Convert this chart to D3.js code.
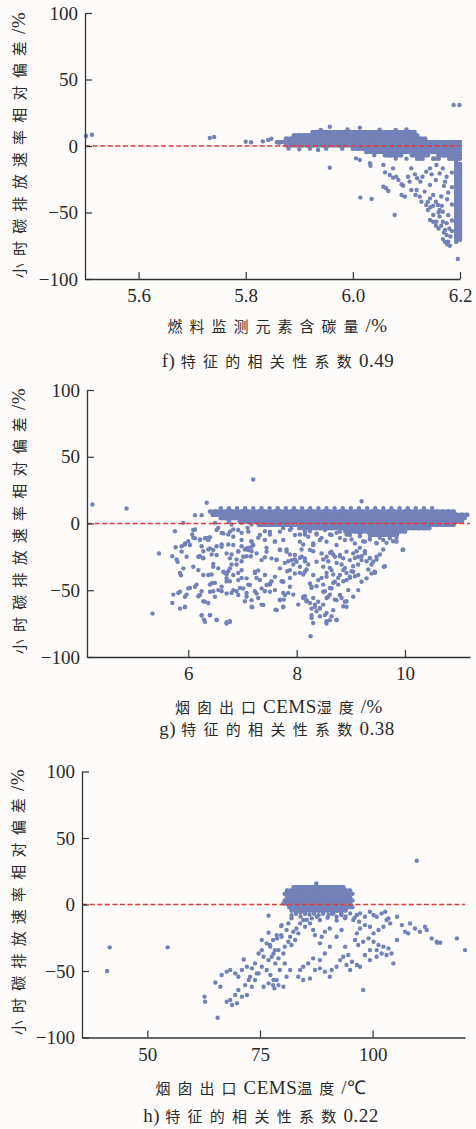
<!DOCTYPE html>
<html><head><meta charset="utf-8">
<script src="https://cdn.jsdelivr.net/npm/d3@7"></script>
<style>body{margin:0;background:#fdfcfb}svg{display:block}</style>
</head><body><svg id="c" width="476" height="1129"></svg>
<script>
// ---------- shared ----------
const yTicks = [100, 50, 0, -50, -100];
const yLabel = ["小时碳排放速率相对偏差", "/%"];

// ---------- panel f ----------
const fXTicks = [5.6, 5.8, 6.0, 6.2];
const fXLabel = ["燃料监测元素含碳量", "/%"];
const fCaption = ["f) ", "特征的相关性系数", "0.49"];
// dense core, read as rows: [y, [x...]]
const fCoreRows = [
  [10.5, [5.925,5.935,5.945,5.955,5.965,5.975,5.985,5.995,6.005,6.015,6.025,6.035,6.045,6.055,6.065,6.075,6.085,6.095,6.105,6.115]],
  [8, [5.89,5.90,5.91,5.92,5.93,5.94,5.95,5.96,5.97,5.98,5.99,6.00,6.01,6.02,6.03,6.04,6.05,6.06,6.07,6.08,6.09,6.10,6.11,6.12]],
  [5.5, [5.875,5.885,5.895,5.905,5.915,5.925,5.935,5.945,5.955,5.965,5.975,5.985,5.995,6.005,6.015,6.025,6.035,6.045,6.055,6.065,6.075,6.085,6.095,6.105,6.115,6.125,6.135]],
  [3, [5.86,5.87,5.88,5.89,5.90,5.91,5.92,5.93,5.94,5.95,5.96,5.97,5.98,5.99,6.00,6.01,6.02,6.03,6.04,6.05,6.06,6.07,6.08,6.09,6.10,6.11,6.12,6.13,6.14,6.15,6.16,6.17,6.18,6.19,6.20]],
  [0.5, [5.875,5.885,5.895,5.905,5.915,5.925,5.935,5.945,5.955,5.965,5.975,5.985,5.995,6.005,6.015,6.025,6.035,6.045,6.055,6.065,6.075,6.085,6.095,6.105,6.115,6.125,6.135,6.145,6.155,6.165,6.175,6.185,6.195,6.20]],
  [-2, [5.88,5.92,5.95,5.98,6.00,6.01,6.02,6.03,6.04,6.05,6.06,6.07,6.08,6.09,6.10,6.11,6.12,6.13,6.14,6.15,6.16,6.17,6.18,6.19,6.20]],
  [-4.5, [6.025,6.035,6.045,6.055,6.065,6.075,6.085,6.095,6.105,6.115,6.125,6.135,6.145,6.155,6.165,6.175,6.185,6.195,6.20]],
  [-7, [6.04,6.06,6.07,6.08,6.09,6.11,6.12,6.13,6.14,6.16,6.17,6.18,6.19,6.20]],
  [-9.5, [6.08,6.10,6.12,6.13,6.15,6.16,6.18,6.19,6.20]]
];
// right-edge vertical strip, read as columns: [x, [y...]]
const fStripCols = [
  [6.193, [-12,-15,-18,-21,-24,-27,-30,-33,-36,-39,-42,-45,-48,-51,-54,-57,-60,-63,-66,-69,-72]],
  [6.200, [-13.5,-16.5,-19.5,-22.5,-25.5,-28.5,-31.5,-34.5,-37.5,-40.5,-43.5,-46.5,-49.5,-52.5,-55.5,-58.5,-61.5,-64.5,-67.5,-70.5]],
  [6.185, [-20,-31,-44,-56,-64]]
];
const fScatter = [
  [5.502,7.5],[5.513,8.5],[5.733,6],[5.741,6.8],[5.80,3.2],[5.81,2.8],[5.832,3.5],[5.842,4.5],[5.848,5.5],[5.858,2.8],[5.863,2.5],
  [5.90,-2.5],[5.935,-3],[5.957,-16.3],
  [5.957,14.5],[6.013,13.8],[5.99,12.5],[6.05,12.3],[6.08,12],[6.10,12.4],[5.94,12],
  [6.006,-9.3],[6.013,-10.5],[6.032,-13],[6.033,-14.8],[6.057,-14.3],[6.06,-19.8],[6.075,-16.8],[6.069,-21.8],[6.075,-23.8],
  [6.081,-23.1],[6.085,-25.6],[6.091,-28.8],[6.094,-29.8],[6.057,-30.6],[6.062,-31.8],[6.066,-33.8],[6.103,-23.1],[6.109,-16.8],
  [6.106,-26.8],[6.116,-21.3],[6.12,-24.3],[6.126,-26.8],[6.13,-23.1],[6.137,-19.3],[6.144,-16.8],[6.147,-21.3],[6.155,-25.6],
  [6.156,-14.3],[6.162,-20.6],[6.168,-16.8],[6.172,-26.8],[6.175,-23.1],[6.144,-29.3],[6.134,-34.3],[6.119,-33.1],[6.109,-33.1],
  [6.125,-38.1],[6.117,-36.8],[6.128,-41.9],[6.137,-44.4],[6.144,-39.4],[6.15,-36.8],[6.155,-41.9],[6.159,-44.4],[6.162,-48.1],
  [6.168,-49.4],[6.14,-48.1],[6.15,-51.9],[6.156,-56.9],[6.162,-53.1],[6.168,-56.9],[6.172,-63.2],[6.175,-66.9],[6.178,-71.9],
  [6.144,-55.6],[6.091,-36.8],[6.097,-38.1],[6.014,-38.8],[6.035,-39.9],[6.078,-51.9],
  [6.15,-45],[6.16,-50],[6.165,-60],[6.17,-65],[6.16,-62],[6.175,-58],[6.178,-52],[6.166,-45],[6.176,-40],[6.178,-35],
  [6.17,-30],[6.165,-38],[6.18,-62],[6.182,-68],[6.176,-74],[6.168,-70],[6.155,-60],[6.15,-57],[6.145,-46],[6.14,-42],
  [6.172,-72],[6.181,-75],[6.196,-85],[6.188,30.8],[6.199,30.8]
];

// ---------- panel g ----------
const gXTicks = [6, 8, 10];
const gXLabel = ["烟囱出口", "CEMS", "湿度", "/%"];
const gCaption = ["g) ", "特征的相关性系数", "0.38"];
const gCoreRows = [
  [11.5, [6.6,6.75,6.9,7.05,7.2,7.35,7.5,7.65,7.8,7.95,8.1,8.25,8.4,8.55,8.7,8.85,9.0,9.15,9.3,9.45,9.6,9.75,9.9,10.05,10.2,10.35,10.5]],
  [9, [6.4,6.5,6.6,6.7,6.8,6.9,7.0,7.1,7.2,7.3,7.4,7.5,7.6,7.7,7.8,7.9,8.0,8.1,8.2,8.3,8.4,8.5,8.6,8.7,8.8,8.9,9.0,9.1,9.2,9.3,9.4,9.5,9.6,9.7,9.8,9.9,10.0,10.1,10.2,10.3,10.4,10.5,10.6,10.7,10.8,10.9]],
  [6.5, [6.45,6.55,6.65,6.75,6.85,6.95,7.05,7.15,7.25,7.35,7.45,7.55,7.65,7.75,7.85,7.95,8.05,8.15,8.25,8.35,8.45,8.55,8.65,8.75,8.85,8.95,9.05,9.15,9.25,9.35,9.45,9.55,9.65,9.75,9.85,9.95,10.05,10.15,10.25,10.35,10.45,10.55,10.65,10.75,10.85,10.95,11.05,11.15]],
  [4, [6.6,6.7,6.8,6.9,7.0,7.1,7.2,7.3,7.4,7.5,7.6,7.7,7.8,7.9,8.0,8.1,8.2,8.3,8.4,8.5,8.6,8.7,8.8,8.9,9.0,9.1,9.2,9.3,9.4,9.5,9.6,9.7,9.8,9.9,10.0,10.1,10.2,10.3,10.4,10.5,10.6,10.7,10.8,10.9,11.0,11.1]],
  [1.5, [6.75,6.95,7.05,7.15,7.25,7.35,7.45,7.55,7.65,7.75,7.85,7.95,8.05,8.15,8.25,8.35,8.45,8.55,8.65,8.75,8.85,8.95,9.05,9.15,9.25,9.35,9.45,9.55,9.65,9.75,9.85,9.95,10.05,10.15,10.25,10.35,10.45,10.55,10.65,10.75,10.85,10.95,11.05]],
  [-1, [7.3,7.4,7.5,7.6,7.7,7.8,7.9,8.0,8.1,8.2,8.3,8.4,8.5,8.6,8.7,8.8,8.9,9.0,9.1,9.2,9.3,9.4,9.5,9.6,9.7,9.8,9.9,10.0,10.1,10.2,10.3,10.4,10.5,10.6,10.7,10.8,10.9]],
  [-3.5, [7.75,7.9,8.05,8.15,8.25,8.35,8.45,8.55,8.65,8.75,8.85,8.95,9.05,9.15,9.25,9.35,9.45,9.55,9.65,9.75,9.85,9.95,10.05,10.15,10.25,10.35,10.45]],
  [-6, [8.9,9.0,9.1,9.2,9.3,9.4,9.5,9.6,9.7,9.8,9.9,10.0]],
  [-8.5, [9.35,9.45,9.55,9.65,9.75,9.85]]
];
const gScatter = [
  [4.23,14.25],[4.86,11.25],[6.34,15.5],[5.34,-67.5],[5.46,-22.5],[7.198,33],[9.2,16.7],
  [5.907,0.5],[6.123,6.25],[6.246,6.25],
  [5.754,-5.75],[6.123,-4.5],[6.073,-8.25],[5.938,-15.75],[5.877,-17],[5.766,-17.75],[5.704,-24.5],[5.784,-27],[5.803,-28.75],
  [5.846,-37],[5.864,-38.75],[5.999,-13.25],[6.092,-10.75],[6.215,-12],[6.246,-17],[6.338,-10.75],[6.399,-10.25],[6.276,-20.75],
  [6.369,-19.5],[6.43,-23.25],[6.215,-24.5],[6.276,-25.75],[6.461,-30.25],[6.522,-17],[6.615,-15.75],[6.615,-7],[6.738,-15.75],
  [6.799,-23.25],[6.891,-27],[6.922,-20.75],[6.984,-17],[7.045,-19.5],[7.107,-18.25],[7.168,-20.75],[7.156,-24.5],[7.076,-24.5],
  [6.984,-28.25],[6.891,-30.75],[6.799,-30.75],[6.676,-37],[6.707,-38.25],[6.768,-43.25],[6.922,-37],[6.984,-40.75],[7.107,-45.75],
  [7.23,-37],[7.291,-35.25],[7.26,-40.75],[7.445,-18.25],[7.414,-25.25],[7.599,-13.25],[7.629,-27],[7.537,-43.25],[7.506,-45.75],
  [7.414,-50.75],[7.291,-55.75],[7.23,-50.75],[7.18,-62.75],[7.076,-52],[6.953,-48.25],[6.891,-50.75],[6.799,-52],[6.615,-50.75],
  [6.492,-44.5],[6.399,-45.75],[6.461,-50.75],[6.246,-50.75],[6.153,-45.75],[6.03,-48.25],[5.969,-53.25],[5.815,-52],[5.723,-53.25],
  [5.704,-59.5],[5.846,-63.75],[5.938,-62.75],[6.184,-54.5],[6.276,-58.25],[6.369,-59.5],[6.246,-69],[6.289,-72],[6.399,-68.75],
  [6.522,-72],[6.707,-74],[6.768,-73.25],[7.045,-58.25],[7.353,-60.75],[7.611,-64.5],[7.691,-57],[7.722,-43.25],[7.752,-52],
  [7.168,-13.25],[7.291,-10.75],[7.414,-5.75],[7.506,-8.25],[6.738,-8.25],[6.83,-4.5],[6.984,-7],[7.094,-3.25],[6.984,0.5],
  [6.799,-0.75],[6.553,-3.25],[6.492,0.5],[7.168,-0.75],[6.738,-35.75],[6.707,-43.25],[6.43,-38.25],[6.448,-44.5],
  [7.691,-19.5],[7.814,-19.5],[7.875,-23.25],[7.783,-29.5],[7.937,-30.75],[7.826,-35.75],[7.876,-40.75],[7.74,-43.25],[7.845,-52],
  [8.06,-37],[8.122,-38.25],[8.183,-34.5],[8.306,-20.75],[8.306,-15.75],[8.122,-15.75],[8.091,-19.5],[8.06,-8.25],[8.152,-8.25],
  [8.245,-5.75],[8.368,-8.25],[8.46,-10.75],[8.614,-8.25],[8.737,-7],[8.798,-10.75],[8.921,-8.25],[9.013,-12],[9.167,-9.5],
  [9.229,-13.25],[9.352,-12],[9.475,-14.5],[9.536,-10.75],[9.659,-14.5],[9.782,-13.25],[9.844,-10.75],[9.967,-19.5],[9.598,-19.5],
  [9.536,-23.25],[9.475,-27],[9.628,-32],[9.444,-37],
  [7.845,-28.25],[7.968,-27],[8.06,-25.75],[8.152,-28.25],[8.214,-30.75],[7.765,-57],[7.752,-62.75],
  [9.321,-34.5],[9.382,-30.75],[9.29,-28.25],[9.352,-25.75],[9.198,-24.5],[9.259,-20.75],[9.167,-18.25],[9.106,-20.75],[9.075,-25.75],
  [9.136,-30.75],[9.044,-32],[9.013,-35.75],[9.075,-39.5],[8.983,-40.75],[8.921,-37],[8.89,-33.25],[8.829,-30.75],[8.737,-29.5],
  [8.798,-24.5],[8.675,-23.25],[8.614,-22],[8.583,-28.25],[8.491,-27],[8.614,-33.25],[8.552,-37],[8.675,-38.25],[8.767,-40.75],
  [8.86,-43.25],[8.767,-45.75],[8.675,-44.5],[8.614,-48.25],[8.521,-50.75],[8.614,-53.25],[8.706,-57],[8.829,-55.75],[8.921,-58.25],
  [8.86,-62],[8.552,-55.75],[8.491,-60.75],[8.429,-63.25],[8.552,-67],[8.644,-69.5],[8.552,-73.25],[8.737,-72],[8.491,-45.75],
  [8.46,-40.75],[8.368,-47],[8.306,-55.75],[8.275,-48.25],[8.152,-54.5],[8.183,-58.25],[8.245,-59.5],[8.275,-63.75],[8.337,-60.75],
  [8.368,-65.75],[8.429,-69.5],[8.275,-70.75],[8.306,-74.5],[8.257,-84.5],[7.937,-53.25],[8.029,-60.75],[8.122,-55.75],
  // second reading of the middle region
  [6.092,-4.9],[6.123,-11.1],[5.938,-14.9],[6.031,-16.1],[6.215,-12.4],[6.307,-11.1],[6.369,-12.4],[6.523,-4.9],[6.646,-7.4],
  [6.769,-6.1],[6.83,-9.9],[6.922,-4.9],[6.984,-12.4],[7.107,-6.1],[7.168,-13.6],[7.168,-17.4],[7.107,-19.9],[7.199,-16.1],
  [7.322,-8.6],[7.414,-12.4],[7.507,-6.1],[7.599,-13.6],[7.691,-6.1],[7.753,-12.4],[7.876,-4.9],[7.968,-8.6],[8.06,-13.6],
  [8.152,-6.1],[8.214,-9.9],[8.306,-14.9],[8.368,-7.4],[8.429,-12.4],[8.521,-4.9],[8.552,-13.6],[8.644,-8.6],[8.737,-16.1],
  [8.798,-6.1],[8.89,-12.4],[8.983,-8.6],[9.075,-14.9],[9.167,-7.4],[9.259,-13.6],[9.352,-9.9],[9.475,-14.9],[9.598,-12.4],
  [9.72,-11.1],[9.844,-13.6],[9.954,-19.9],
  [5.877,-21.1],[5.969,-24.9],[6.184,-24.9],[6.277,-26.1],[6.4,-18.6],[6.461,-19.9],[6.523,-23.6],[6.615,-17.4],[6.707,-22.4],
  [6.769,-26.1],[6.83,-16.1],[6.922,-21.1],[7.015,-24.9],[7.076,-18.6],[7.261,-22.4],[7.353,-27.4],[7.445,-21.1],[7.537,-26.1],
  [7.63,-27.4],[7.691,-19.9],[7.814,-21.1],[7.906,-27.4],[7.968,-23.6],[7.999,-28.6],[8.091,-24.9],[8.152,-26.1],[8.245,-19.9],
  [8.306,-16.1],[8.368,-28.6],[8.46,-22.4],[8.552,-24.9],[8.644,-21.1],[8.706,-24.9],[8.798,-23.6],[8.86,-26.1],[8.921,-21.1],
  [8.983,-27.4],[9.044,-22.4],[9.136,-24.9],[9.198,-27.4],[9.259,-22.4],[9.352,-26.1],[9.413,-28.6],[9.475,-24.9],[9.61,-32.4],
  [5.908,-33.6],[6.092,-32.4],[6.184,-34.9],[6.277,-38.6],[6.369,-38.6],[6.43,-44.9],[6.461,-32.4],[6.553,-33.6],[6.646,-36.1],
  [6.707,-41.1],[6.769,-33.6],[6.83,-38.6],[6.922,-42.4],[6.984,-34.9],[7.076,-41.1],[7.138,-46.1],[7.23,-36.1],[7.322,-42.4],
  [7.414,-38.6],[7.507,-44.9],[7.599,-39.9],[7.691,-33.6],[7.753,-43.6],[7.876,-34.9],[7.968,-37.4],[8.06,-32.4],[8.152,-36.1],
  [8.245,-44.9],[8.306,-38.6],[8.398,-42.4],[8.491,-32.4],[8.552,-39.9],[8.644,-34.9],[8.706,-43.6],[8.798,-38.6],[8.86,-34.9],
  [8.921,-42.4],[8.983,-39.9],[9.044,-36.1],[9.136,-38.6],[9.198,-43.6],[9.29,-41.1],[9.382,-37.4],[9.444,-36.1],
  [5.846,-51.1],[5.938,-54.9],[6.0,-48.6],[6.123,-47.4],[6.215,-53.6],[6.307,-58.6],[6.4,-51.1],[6.492,-54.9],[6.553,-49.9],
  [6.615,-47.4],[6.707,-52.4],[6.83,-49.9],[6.922,-53.6],[7.015,-48.6],[7.076,-54.9],[7.168,-57.4],[7.261,-52.4],[7.353,-48.6],
  [7.445,-46.1],[7.507,-51.1],[7.599,-49.9],[7.691,-57.4],[7.783,-53.6],[7.876,-47.4],[8.122,-54.9],[8.183,-57.4],[8.275,-47.4],
  [8.337,-62.4],[8.398,-58.6],[8.491,-51.1],[8.583,-54.9],[8.644,-48.6],[8.737,-57.4],[8.798,-53.6],[8.89,-58.6],[8.952,-49.9],
  [9.044,-54.9],[9.136,-49.9],
  [5.938,-62.4],[6.246,-68.6],[6.4,-68.6],[6.307,-73.6],[6.523,-72.4],[6.707,-74.9],[6.769,-73.6],[7.168,-62.4],[7.384,-61.1],
  [7.63,-64.9],[7.753,-62.4],[8.275,-68.6],[8.429,-63.6],[8.521,-68.6],[8.614,-72.4],[8.552,-74.9],[8.675,-64.9],[8.737,-72.4],
  [8.921,-62.4]
];

// ---------- panel h ----------
const hXTicks = [50, 75, 100];
const hXLabel = ["烟囱出口", "CEMS", "温度", "/℃"];
const hCaption = ["h) ", "特征的相关性系数", "0.22"];
const hCoreRows = [
  [13, [82.5,83.5,84.5,85.5,86.5,87.5,88.5,89.5,90.5,91.5,92.5,93.5]],
  [10.5, [81,82,83,84,85,86,87,88,89,90,91,92,93,94,95]],
  [8, [80.5,81.5,82.5,83.5,84.5,85.5,86.5,87.5,88.5,89.5,90.5,91.5,92.5,93.5,94.5,95.5]],
  [5.5, [81,82,83,84,85,86,87,88,89,90,91,92,93,94,95]],
  [3, [80.5,81.5,82.5,83.5,84.5,85.5,86.5,87.5,88.5,89.5,90.5,91.5,92.5,93.5,94.5,95.5]],
  [0.5, [81,82,83,84,85,86,87,88,89,90,91,92,93,94,95]],
  [-2, [81.5,82.5,83.5,84.5,85.5,86.5,87.5,88.5,89.5,90.5,91.5,92.5,93.5,94.5,95.5]],
  [-4.5, [82,83,84,85,86,87,88,89,90,91,92,93,94]],
  [-7, [83,85,87,89,91,93]]
];
const hScatter = [
  [41.65,-32.2],[41.06,-50],[54.5,-32.2],[109.8,32.9],[65.6,-85.1],[62.7,-69.3],[62.8,-73.1],[87.5,15.8],[80.2,0.8],
  [65.1,-58.6],[66.2,-61.8],[66.5,-53],[67.6,-50.5],[68.4,-49.3],[69.5,-51.8],[70.2,-54.3],[71,-49.3],[71.4,-41.3],[72.1,-46.8],
  [72.8,-54.3],[73.9,-56.8],[74.7,-51.8],[75.4,-46.8],[76.5,-49.3],[77.3,-53],[78,-56.8],[79.1,-60.6],[78.4,-44.3],[76.9,-41.8],
  [75.8,-39.3],[74.7,-36.8],[73.9,-44.3],[73.2,-48],[72.5,-56.8],[71.7,-60.6],[70.2,-64.3],[69.5,-68.1],[68.4,-71.8],[67.6,-73.1],
  [68.8,-75.6],[69.9,-74.3],[71,-69.3],[72.1,-68.1],[73.2,-61.8],[75.4,-26.7],[76.5,-29.2],[76.9,-21.2],[77.3,-31.7],[78,-36.8],
  [79.1,-34.3],[78.8,-25.5],[79.7,-23],[76.9,-8.4],[79.7,-16.2],[75.4,-34.3],[74.3,-51.8],[75.8,-61.8],[78.2,-63.1],[76.9,-59.3],
  [79.8,-15.5],[78.7,-23],[77.9,-26.7],[77.2,-30.5],[78.3,-34.3],[77.6,-39.3],[79.1,-40.5],[80.2,-36.8],[80.5,-31.7],[81.3,-28],
  [81.7,-24.2],[82.4,-20.5],[83.1,-18],[83.9,-14.2],[84.6,-11.7],[85.4,-11.7],[86.1,-14.2],[85,-16.7],[83.5,-21.7],[82.8,-26.7],
  [82,-30.5],[80.5,-44.3],[79.4,-49.3],[78.7,-56.8],[77.9,-60.6],[80.2,-61.8],[80.9,-54.3],[81.7,-49.3],[79.8,-24.2],[80.9,-19.2],
  [81.3,-14.2],[82,-10.4],[86.5,-10.4],[86.8,-19.2],[87.2,-23],[88.3,-29.2],[88.7,-24.2],[89.4,-20.5],[90.5,-18],[92,-24.2],
  [93.1,-19.2],[93.9,-31.7],[90.5,-31.7],[89.4,-36.8],[88.3,-41.8],[86.8,-40.5],[85.7,-44.3],[84.6,-46.8],[83.9,-49.3],[83.5,-54.3],
  [84.6,-56.8],[86.1,-55.6],[87.2,-49.3],[88.3,-48],[89.4,-50.5],[90.5,-54.3],[90.9,-49.3],[92,-46.8],[92.8,-41.8],[93.5,-39.3],
  [94.6,-38],[95.4,-43],[96.5,-45.5],[97.2,-46.8],[95,-49.3],[94.2,-45.5],[97.9,-64.3],[95.7,-11.7],[96.5,-7.9],[97.2,-6.7],
  [98.3,-9.2],[99.4,-5.4],[100.2,-7.9],[100.9,-9.2],[102,-6.7],[102.8,-5.4],[103.1,-11.7],[103.9,-14.2],[102.4,-16.7],[101.3,-19.2],
  [100.2,-21.7],[99.4,-16.7],[98.3,-15.5],[97.2,-18],[96.5,-21.7],[96.1,-26.7],[96.8,-30.5],[97.9,-28],[99.1,-25.5],[100.2,-28],
  [101.3,-30.5],[102.4,-31.7],[103.5,-33],[104.2,-36.8],[103.1,-38],[102,-36.8],[100.9,-34.3],[99.4,-34.3],[98.3,-38],[99.4,-41.8],
  [100.9,-39.3],[104.6,-44.3],[105.4,-26.7],[106.5,-15.5],[107.2,-20.5],[107.9,-21.7],[108.3,-14.2],[109.4,-18],[110.5,-20.5],
  [111.6,-16.7],[112,-19.2],[113.1,-25.5],[114.2,-28],[115,-28.7],[118.7,-25.5],[120.5,-34.3],[105.4,-9.2],[103.5,-10.4],[95,-6.7],
  [93.9,-10.4],[93.1,-7.9],[92,-9.2],[91.3,-6.7],[90.2,-7.9],[88.3,-11.7],[87.6,-9.2],[114.3,-28.7],
  [82,-8],[84,-9],[86,-7.5],[88,-8],[90,-10],[92,-12],[94,-9],[96,-10],[97,-13],[84,-6],[89,-5.5]
];

// ---------- drawing ----------
const svg = d3.select("#c");
svg.append("rect").attr("width", 476).attr("height", 1129).attr("fill", "#fdfcfb");

const SERIF = "'Liberation Serif','Times New Roman',serif";
const CJK = "'Noto Sans CJK SC','Noto Sans CJK JP',sans-serif";
const DOT = "#7282b9";
const isCJK = s => /[\u4e00-\u9fff]/.test(s);

function addLabel(cx, cy, parts, ls, rotate) {
  const t = svg.append("text")
    .attr("text-anchor", "middle")
    .attr("dominant-baseline", "central")
    .attr("fill", "#2a2a2a");
  if (rotate) t.attr("transform", `translate(${cx},${cy}) rotate(-90)`);
  else t.attr("x", cx).attr("y", cy);
  parts.forEach(p => {
    const c = isCJK(p);
    t.append("tspan").text(p)
      .style("font-family", c ? CJK : SERIF)
      .style("font-size", c ? "15px" : "19px")
      .style("letter-spacing", c ? ls + "px" : "0.5px");
  });
}

const panels = [
  { xDomain: [5.5, 6.2], left: 85, right: 460, top: 13, bottom: 279, xTicks: fXTicks, fmt: d3.format(".1f"),
    rows: fCoreRows, cols: fStripCols, scatter: fScatter,
    yLab: [18, 145], xLab: fXLabel, xLabPos: [277.5, 325], cap: fCaption, capPos: [278, 360] },
  { xDomain: [4.13, 11.2], left: 87, right: 470, top: 390, bottom: 657, xTicks: gXTicks, fmt: d3.format("d"),
    rows: gCoreRows, cols: [], scatter: gScatter,
    yLab: [18, 521], xLab: gXLabel, xLabPos: [279, 706], cap: gCaption, capPos: [277, 728] },
  { xDomain: [35.5, 120.5], left: 82, right: 465, top: 771.5, bottom: 1037.5, xTicks: hXTicks, fmt: d3.format("d"),
    rows: hCoreRows, cols: [], scatter: hScatter,
    yLab: [17, 902], xLab: hXLabel, xLabPos: [261, 1087], cap: hCaption, capPos: [261, 1115] }
];

panels.forEach(p => {
  const x = d3.scaleLinear().domain(p.xDomain).range([p.left, p.right]);
  const y = d3.scaleLinear().domain([-100, 100]).range([p.bottom, p.top]);
  const gMarks = svg.append("g");

  // dense cores: join neighbouring readings of a row / column so the cluster reads as solid
  const segs = [];
  p.rows.forEach(([yy, xs]) => {
    for (let i = 1; i < xs.length; i++) {
      if (Math.abs(x(xs[i]) - x(xs[i - 1])) < 7) segs.push([[xs[i - 1], yy], [xs[i], yy]]);
    }
  });
  p.cols.forEach(([xx, ys]) => {
    for (let i = 1; i < ys.length; i++) {
      if (Math.abs(y(ys[i]) - y(ys[i - 1])) < 7) segs.push([[xx, ys[i - 1]], [xx, ys[i]]]);
    }
  });
  gMarks.selectAll("line.seg").data(segs).join("line").attr("class", "seg")
    .attr("x1", d => x(d[0][0])).attr("y1", d => y(d[0][1]))
    .attr("x2", d => x(d[1][0])).attr("y2", d => y(d[1][1]))
    .attr("stroke", DOT).attr("stroke-width", 4.2).attr("stroke-linecap", "round");

  const pts = [];
  p.rows.forEach(([yy, xs]) => xs.forEach(xx => pts.push([xx, yy])));
  p.cols.forEach(([xx, ys]) => ys.forEach(yy => pts.push([xx, yy])));
  p.scatter.forEach(d => pts.push(d));

  gMarks.selectAll("circle").data(pts).join("circle")
    .attr("cx", d => x(d[0])).attr("cy", d => y(d[1]))
    .attr("r", 2.2).attr("fill", DOT);

  svg.append("line")
    .attr("x1", x(p.xDomain[0])).attr("x2", x(p.xDomain[1]))
    .attr("y1", y(0)).attr("y2", y(0))
    .attr("stroke", "#e5383b").attr("stroke-width", 1.5).attr("stroke-dasharray", "5,2.6");

  const ax = svg.append("g").attr("transform", `translate(0,${p.bottom})`)
    .call(d3.axisBottom(x).tickValues(p.xTicks).tickFormat(p.fmt).tickSizeInner(-7).tickSizeOuter(0).tickPadding(10));
  const ay = svg.append("g").attr("transform", `translate(${p.left},0)`)
    .call(d3.axisLeft(y).tickValues(yTicks).tickFormat(d3.format("d")).tickSizeInner(-7).tickSizeOuter(0).tickPadding(7));
  [ax, ay].forEach(a => {
    a.attr("font-family", null).attr("font-size", null);
    a.select(".domain").attr("stroke", "#333").attr("stroke-width", 1.3);
    a.selectAll(".tick line").attr("stroke", "#333").attr("stroke-width", 1.2);
    a.selectAll(".tick text").style("font-family", SERIF).style("font-size", "19px").attr("fill", "#2a2a2a");
  });

  addLabel(p.yLab[0], p.yLab[1], yLabel, 7.2, true);
  addLabel(p.xLabPos[0], p.xLabPos[1], p.xLab, 7, false);
  addLabel(p.capPos[0], p.capPos[1], p.cap, 7.3, false);
});
</script>
</body></html>
